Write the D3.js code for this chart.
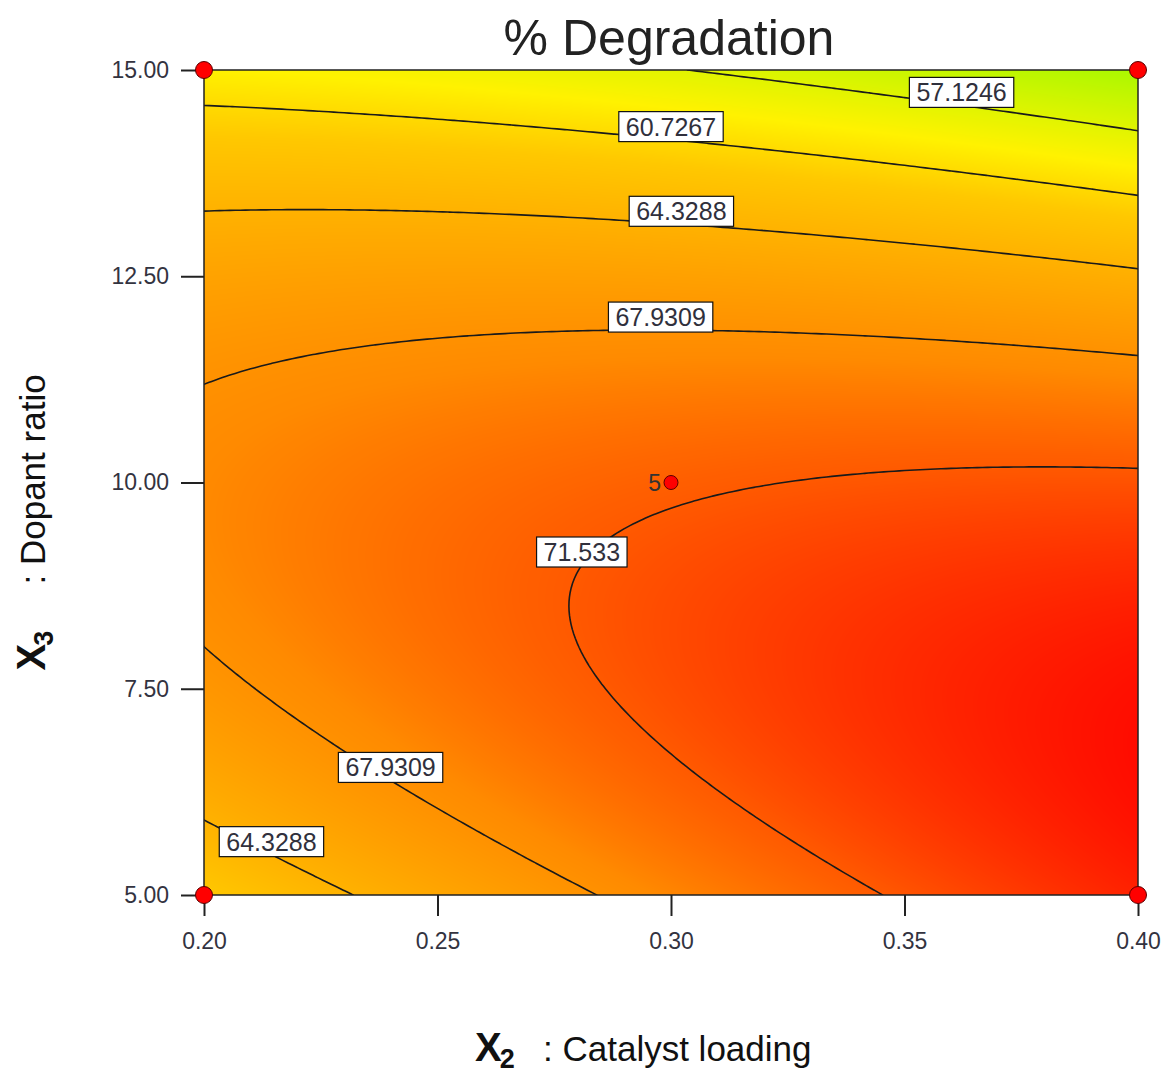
<!DOCTYPE html>
<html>
<head>
<meta charset="utf-8">
<title>% Degradation</title>
<script src="https://cdn.jsdelivr.net/npm/d3@7"></script>
<style>
    body { margin: 0; background: #fff; }
    svg text { font-family: Arial, "Liberation Sans", sans-serif; }
</style>
</head>
<body>
<div id="chart"></div>
<script>
// Response surface for % Degradation (coded units: A = X2, B = X3, both -1..1)
const termNames = ["Intercept", "A", "B", "AB", "A^2", "B^2"];
const termCoefs = [71.2, 1.6, -5.85, -4.55, -0.9, -8.12];

const contourLevels = [57.1246, 60.7267, 64.3288, 67.9309, 71.533];

const x2Ticks = [0.20, 0.25, 0.30, 0.35, 0.40];
const x3Ticks = [5.0, 7.5, 10.0, 12.5, 15.0];

// design points and how many runs sit on each
const designX2 = [0.20, 0.20, 0.40, 0.40, 0.30];
const designX3 = [5, 15, 5, 15, 10];
const designRuns = [1, 1, 1, 1, 5];

// contour labels (approximate box centre, snapped to the line)
const labelLevels = [57.1246, 60.7267, 64.3288, 67.9309, 71.533, 67.9309, 64.3288];
const labelX2 = [0.362, 0.300, 0.302, 0.298, 0.280, 0.240, 0.215];
const labelX3 = [14.77, 14.37, 13.34, 12.05, 9.18, 6.60, 5.69];


class ContourVis {
    constructor(parentElement) {
        this.parentElement = parentElement;
        this.initVis();
    }

    initVis() {
        let vis = this;

        vis.W = 1163;
        vis.H = 1074;
        vis.margin = { top: 70, right: 25, bottom: 179, left: 204 };
        vis.width = vis.W - vis.margin.left - vis.margin.right;
        vis.height = vis.H - vis.margin.top - vis.margin.bottom;

        vis.svg = d3.select(`#${vis.parentElement}`)
            .append("svg")
            .attr("width", vis.W)
            .attr("height", vis.H);

        vis.g = vis.svg.append("g")
            .attr("transform", `translate(${vis.margin.left},${vis.margin.top})`);

        vis.x = d3.scaleLinear().domain(d3.extent(x2Ticks)).range([0, vis.width]);
        vis.y = d3.scaleLinear().domain(d3.extent(x3Ticks)).range([vis.height, 0]);

        // yellow-green (low) -> yellow -> orange -> red (high)
        vis.color = d3.scaleLinear()
            .domain([53.3, 59.2, 61.9, 68.7, 71.5, 75.2])
            .range(["#a8f800", "#fff200", "#ffc800", "#ff8a00", "#ff5a00", "#ff0c00"])
            .clamp(true);

        vis.svg.append("defs").append("clipPath")
            .attr("id", "plot-clip")
            .append("rect")
            .attr("width", vis.width)
            .attr("height", vis.height);

        vis.wrangleData();
    }

    // predicted response at real (X2, X3)
    predict(x2, x3) {
        let vis = this;
        const [x2lo, x2hi] = vis.x.domain();
        const [x3lo, x3hi] = vis.y.domain();
        const a = (x2 - (x2lo + x2hi) / 2) / ((x2hi - x2lo) / 2);
        const b = (x3 - (x3lo + x3hi) / 2) / ((x3hi - x3lo) / 2);
        const [c0, cA, cB, cAB, cAA, cBB] = termCoefs;
        return c0 + cA * a + cB * b + cAB * a * b + cAA * a * a + cBB * b * b;
    }

    wrangleData() {
        let vis = this;

        // grid for the isolines
        vis.nx = 181;
        vis.ny = 181;
        const [x2lo, x2hi] = vis.x.domain();
        const [x3lo, x3hi] = vis.y.domain();
        vis.u2x2 = u => x2lo + (u - 0.5) / (vis.nx - 1) * (x2hi - x2lo);
        vis.v2x3 = v => x3lo + (v - 0.5) / (vis.ny - 1) * (x3hi - x3lo);

        vis.grid = new Array(vis.nx * vis.ny);
        for (let j = 0; j < vis.ny; j++) {
            for (let i = 0; i < vis.nx; i++) {
                vis.grid[j * vis.nx + i] = vis.predict(vis.u2x2(i + 0.5), vis.v2x3(j + 0.5));
            }
        }

        vis.contours = d3.contours()
            .size([vis.nx, vis.ny])
            .thresholds(contourLevels)(vis.grid);

        vis.points = designX2.map((d, i) => ({ x2: d, x3: designX3[i], runs: designRuns[i] }));
        vis.labels = labelLevels.map((d, i) => ({ level: d, x2: labelX2[i], x3: labelX3[i] }));

        vis.updateVis();
    }

    updateVis() {
        let vis = this;

        // colour raster drawn on a canvas, then put in the svg as an image
        const canvas = document.createElement("canvas");
        canvas.width = vis.width;
        canvas.height = vis.height;
        const ctx = canvas.getContext("2d");
        const img = ctx.createImageData(vis.width, vis.height);

        const lutN = 1024, lutLo = 50, lutHi = 78;
        const lut = d3.range(lutN).map(k => d3.rgb(vis.color(lutLo + k / (lutN - 1) * (lutHi - lutLo))));

        for (let py = 0; py < vis.height; py++) {
            const x3 = vis.y.invert(py + 0.5);
            for (let px = 0; px < vis.width; px++) {
                const v = vis.predict(vis.x.invert(px + 0.5), x3);
                let k = Math.round((v - lutLo) / (lutHi - lutLo) * (lutN - 1));
                k = Math.max(0, Math.min(lutN - 1, k));
                const c = lut[k];
                const o = (py * vis.width + px) * 4;
                img.data[o] = c.r;
                img.data[o + 1] = c.g;
                img.data[o + 2] = c.b;
                img.data[o + 3] = 255;
            }
        }
        ctx.putImageData(img, 0, 0);

        vis.g.append("image")
            .attr("width", vis.width)
            .attr("height", vis.height)
            .attr("preserveAspectRatio", "none")
            .attr("href", canvas.toDataURL());

        // isolines
        const proj = d3.geoTransform({
            point(u, v) { this.stream.point(vis.x(vis.u2x2(u)), vis.y(vis.v2x3(v))); }
        });
        vis.path = d3.geoPath(proj);

        vis.g.append("g")
            .attr("class", "contours")
            .attr("clip-path", "url(#plot-clip)")
            .selectAll("path")
            .data(vis.contours)
            .enter()
            .append("path")
            .attr("d", vis.path)
            .attr("fill", "none")
            .attr("stroke", "#1a1a1a")
            .attr("stroke-width", 1.6);

        // axes
        const xAxis = d3.axisBottom(vis.x)
            .tickValues(x2Ticks)
            .tickFormat(d3.format(".2f"))
            .tickSize(21)
            .tickPadding(17)
            .tickSizeOuter(0);

        const yAxis = d3.axisLeft(vis.y)
            .tickValues(x3Ticks)
            .tickFormat(d3.format(".2f"))
            .tickSize(23)
            .tickPadding(12)
            .tickSizeOuter(0);

        const xg = vis.g.append("g")
            .attr("transform", `translate(0,${vis.height})`)
            .call(xAxis);
        const yg = vis.g.append("g").call(yAxis);

        [xg, yg].forEach(ax => {
            ax.select(".domain").remove();
            ax.selectAll(".tick line").attr("stroke", "#222").attr("stroke-width", 2);
            ax.selectAll(".tick text")
                .attr("fill", "#33333f")
                .style("font-size", "23px");
        });

        // plot frame
        vis.g.append("rect")
            .attr("width", vis.width)
            .attr("height", vis.height)
            .attr("fill", "none")
            .attr("stroke", "#222")
            .attr("stroke-width", 1.5);

        // contour labels: the line runs along the lower part of each box
        const lift = 13;
        const labelGroup = vis.g.append("g").attr("class", "contour-labels");
        vis.labels.forEach(lab => {
            const cont = vis.contours.find(c => c.value === lab.level);
            const tx = vis.x(lab.x2), ty = vis.y(lab.x3) + lift;
            let best = [tx, ty], bestD = Infinity;
            cont.coordinates.forEach(poly => poly.forEach(ring => ring.forEach(p => {
                const px = vis.x(vis.u2x2(p[0])), py = vis.y(vis.v2x3(p[1]));
                if (px < 1 || px > vis.width - 1 || py < 1 || py > vis.height - 1) return;
                const dd = (px - tx) ** 2 + (py - ty) ** 2;
                if (dd < bestD) { bestD = dd; best = [px, py]; }
            })));

            const lg = labelGroup.append("g")
                .attr("transform", `translate(${best[0]},${best[1] - lift})`);
            const rect = lg.append("rect");
            const txt = lg.append("text")
                .attr("text-anchor", "middle")
                .attr("y", 9)
                .attr("fill", "#30303c")
                .style("font-size", "25px")
                .text(String(lab.level));
            const tw = txt.node().getComputedTextLength();
            rect.attr("x", -tw / 2 - 7)
                .attr("y", -15)
                .attr("width", tw + 14)
                .attr("height", 30)
                .attr("fill", "#fff")
                .attr("stroke", "#111")
                .attr("stroke-width", 1.2);
        });

        // design points
        vis.g.append("g")
            .selectAll("circle")
            .data(vis.points)
            .enter()
            .append("circle")
            .attr("cx", d => vis.x(d.x2))
            .attr("cy", d => vis.y(d.x3))
            .attr("r", d => d.runs > 1 ? 7 : 8.5)
            .attr("fill", "#ff0000")
            .attr("stroke", "#5a0000")
            .attr("stroke-width", 1);

        vis.g.append("g")
            .selectAll("text")
            .data(vis.points.filter(d => d.runs > 1))
            .enter()
            .append("text")
            .attr("x", d => vis.x(d.x2) - 10)
            .attr("y", d => vis.y(d.x3) + 8)
            .attr("text-anchor", "end")
            .attr("fill", "#333")
            .style("font-size", "23px")
            .text(d => d.runs);

        // titles
        vis.svg.append("text")
            .attr("x", vis.margin.left + vis.width / 2 - 2)
            .attr("y", 55)
            .attr("text-anchor", "middle")
            .attr("fill", "#222")
            .style("font-size", "50px")
            .text("% Degradation");

        const xt = vis.svg.append("text")
            .attr("x", vis.margin.left + vis.width / 2 - 196)
            .attr("y", 1061)
            .attr("fill", "#111");
        xt.append("tspan").style("font-weight", "bold").style("font-size", "40px").text("X");
        xt.append("tspan").style("font-weight", "bold").style("font-size", "27px")
            .attr("dx", -2).attr("dy", 7).text("2");
        xt.append("tspan").style("font-size", "35px")
            .attr("x", vis.margin.left + vis.width / 2 - 128).attr("dy", -7)
            .text(": Catalyst loading");

        const yt = vis.svg.append("text")
            .attr("transform", `translate(45,${vis.margin.top + vis.height / 2 + 188}) rotate(-90)`)
            .attr("fill", "#111");
        yt.append("tspan").style("font-weight", "bold").style("font-size", "40px").text("X");
        yt.append("tspan").style("font-weight", "bold").style("font-size", "27px")
            .attr("dx", -2).attr("dy", 8).text("3");
        yt.append("tspan").style("font-size", "35px")
            .attr("x", 86).attr("dy", -8)
            .text(": Dopant ratio");
    }
}

new ContourVis("chart");
</script>
</body>
</html>
